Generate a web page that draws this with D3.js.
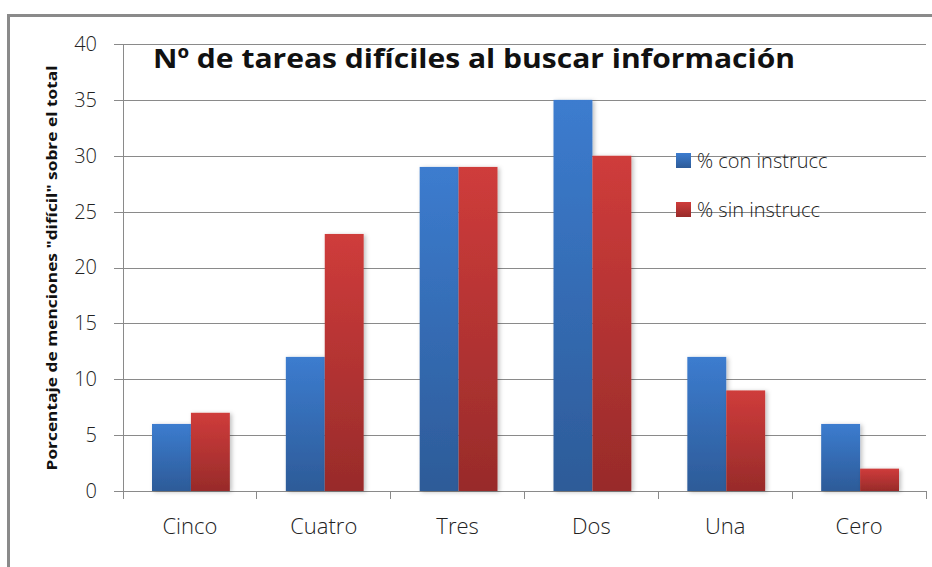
<!DOCTYPE html>
<html><head><meta charset="utf-8">
<script src="https://cdn.jsdelivr.net/npm/d3@7"></script>
<style>body{margin:0;background:#fff;} svg{display:block;} text{font-family:"Open Sans","DejaVu Sans",sans-serif;}</style>
</head><body><svg id="chart" width="932" height="567"></svg>
<script>
const categories = ['Cinco', 'Cuatro', 'Tres', 'Dos', 'Una', 'Cero'];
const conInstrucc = [6, 12, 29, 35, 12, 6];
const sinInstrucc = [7, 23, 29, 30, 9, 2];
const seriesNames = ['% con instrucc', '% sin instrucc'];
const yTicks = [0, 5, 10, 15, 20, 25, 30, 35, 40];

const margin = {top: 44, right: 6, bottom: 76, left: 123}, width = 926 - margin.left, height = 491 - margin.top;
const svg = d3.select('#chart');
// outer frame
svg.append('rect').attr('x', 8.5).attr('y', 15.5).attr('width', 940).attr('height', 600).attr('fill', 'none').attr('stroke', '#8a8a8a').attr('stroke-width', 3);

const defs = svg.append('defs');
const grad = (id, top, bot) => { const g = defs.append('linearGradient').attr('id', id).attr('x1', 0).attr('y1', 0).attr('x2', 0).attr('y2', 1);
  g.append('stop').attr('offset', '0%').attr('stop-color', top); g.append('stop').attr('offset', '100%').attr('stop-color', bot); };
grad('gBlue', '#3c7ccf', '#2d5b98'); grad('gRed', '#cf3c3b', '#982b2a');
const f = defs.append('filter').attr('id', 'sh').attr('x', '-20%').attr('y', '-10%').attr('width', '160%').attr('height', '130%');
f.append('feDropShadow').attr('dx', 2).attr('dy', 1).attr('stdDeviation', 2).attr('flood-color', '#000').attr('flood-opacity', 0.25);

const g = svg.append('g').attr('transform', `translate(${margin.left},${margin.top})`);
const x = d3.scaleBand().domain(categories).range([0, width]).paddingInner(0).paddingOuter(0);
const y = d3.scaleLinear().domain([0, 40]).range([height, 0]);
const xs = d3.scaleBand().domain([0, 1]).range([29, x.bandwidth() - 27]);

// gridlines + y axis
const yAxis = d3.axisLeft(y).tickValues(yTicks).tickSize(-width - 9).tickPadding(17).tickFormat(d3.format('d'));
g.append('g').attr('transform', 'translate(-9,0)').call(yAxis).call(a => {
  a.select('.domain').remove();
  a.selectAll('.tick line').attr('stroke', '#8a8a8a').attr('x1', 0).attr('x2', width + 9).attr('shape-rendering', 'crispEdges');
  a.selectAll('.tick text').attr('x', -17).attr('fill', '#222').style('font-size', '20px').style('font-weight', 300);
});
g.append('line').attr('x1', 0).attr('x2', 0).attr('y1', 0).attr('y2', height + 8).attr('stroke', '#8a8a8a').attr('shape-rendering', 'crispEdges');

// x axis
const xAxis = d3.axisBottom(x).tickSize(0).tickPadding(27);
g.append('g').attr('transform', `translate(0,${height})`).call(xAxis).call(a => {
  a.select('.domain').remove();
  a.selectAll('.tick text').attr('fill', '#222').style('font-size', '22px').style('font-weight', 300);
});
g.selectAll('.xsep').data(categories).join('line').attr('class', 'xsep')
  .attr('x1', d => x(d) + x.bandwidth()).attr('x2', d => x(d) + x.bandwidth()).attr('y1', height).attr('y2', height + 8)
  .attr('stroke', '#8a8a8a').attr('shape-rendering', 'crispEdges');

// bars
const rows = categories.map((c, i) => ({c, v: [conInstrucc[i], sinInstrucc[i]]}));
const groups = g.selectAll('.grp').data(rows).join('g').attr('class', 'grp').attr('transform', d => `translate(${x(d.c)},0)`);
groups.selectAll('rect').data(d => d.v.map((v, k) => ({v, k}))).join('rect')
  .attr('x', d => xs(d.k)).attr('width', xs.bandwidth()).attr('y', d => y(d.v)).attr('height', d => height - y(d.v))
  .attr('fill', d => d.k ? 'url(#gRed)' : 'url(#gBlue)').attr('filter', 'url(#sh)');

// title
svg.append('text').attr('x', 153).attr('y', 68).text('Nº de tareas difíciles al buscar información')
  .style('font-size', '27px').style('font-weight', 700).attr('fill', '#111').attr('textLength', 642).attr('lengthAdjust', 'spacingAndGlyphs');

// y title
svg.append('text').attr('transform', 'translate(57,268) rotate(-90)').attr('text-anchor', 'middle')
  .text('Porcentaje de menciones "difícil" sobre el total').style('font-size', '15px').style('font-weight', 700).attr('fill', '#111')
  .attr('textLength', 405).attr('lengthAdjust', 'spacingAndGlyphs');

// legend
const lg = svg.append('g').attr('transform', 'translate(676,153)');
const li = lg.selectAll('g').data(seriesNames).join('g').attr('transform', (d, i) => `translate(0,${i * 49})`);
li.append('rect').attr('width', 15).attr('height', 15).attr('fill', (d, i) => i ? 'url(#gRed)' : 'url(#gBlue)');
li.append('text').attr('x', 21).attr('y', 15).text(d => d).style('font-size', '20px').style('font-weight', 300).attr('fill', '#222');
</script></body></html>
